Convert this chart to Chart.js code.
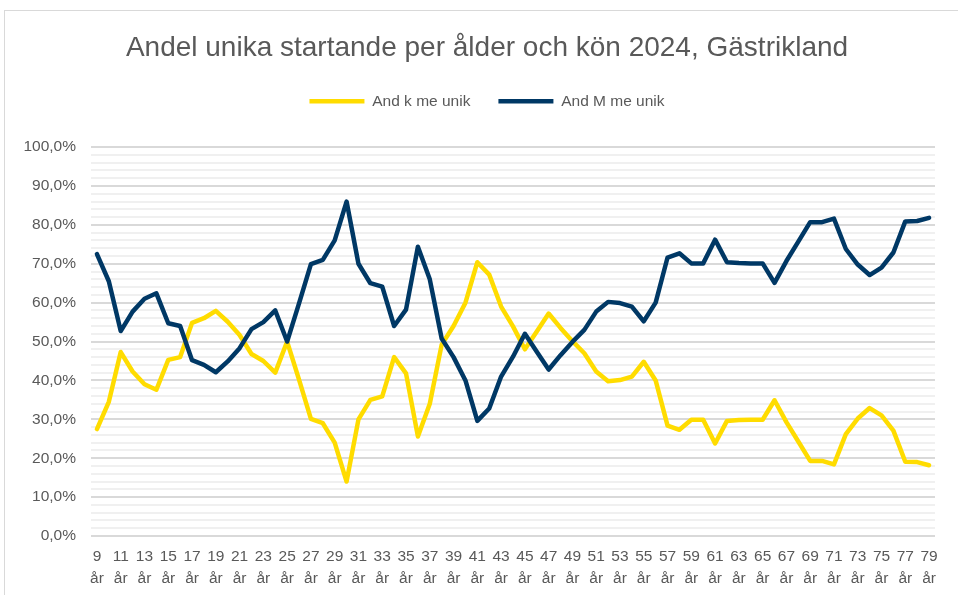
<!DOCTYPE html>
<html>
<head>
<meta charset="utf-8">
<script src="https://cdn.jsdelivr.net/npm/chart.js@4.4.1/dist/chart.umd.min.js"></script>
<style>
  html, body { margin: 0; padding: 0; background: #fff; }
  #wrap { position: relative; width: 958px; height: 595px; overflow: hidden; }
  #frame { position: absolute; left: 4px; top: 10px; width: 980px; height: 600px; border: 1px solid #d9d9d9; box-sizing: border-box; }
  #c { position: absolute; left: 0; top: 0; }
</style>
</head>
<body>
<div id="wrap">
  <div id="frame"></div>
  <canvas id="c" width="958" height="595"></canvas>
</div>
<script>
const titleText = 'Andel unika startande per ålder och kön 2024, Gästrikland';
const ages = ['9','10','11','12','13','14','15','16','17','18',
  '19','20','21','22','23','24','25','26','27','28',
  '29','30','31','32','33','34','35','36','37','38',
  '39','40','41','42','43','44','45','46','47','48',
  '49','50','51','52','53','54','55','56','57','58',
  '59','60','61','62','63','64','65','66','67','68',
  '69','70','71','72','73','74','75','76','77','78','79'];
const unitLabel = 'år';
const seriesNames = ['And k me unik', 'And M me unik'];
const andelK = [27.5,34.5,47.3,42.3,39,37.6,45.3,46,54.8,56,
  57.9,55.1,51.7,46.8,45,42,50,40.2,30.1,29,
  24,14,30,35,35.9,46,41.8,25.6,34,49.2,
  54,60,70.4,67.2,59,53.9,48,52.6,57.2,53.5,
  50.1,47,42.3,39.8,40.1,41,44.8,40,28.4,27.3,
  29.9,29.9,23.8,29.6,29.8,29.9,29.9,34.9,29.3,24.3,
  19.3,19.3,18.4,26.2,30.2,32.9,31,27.1,19.1,19,18.2];
const andelM = [72.5,65.5,52.7,57.7,61,62.4,54.7,54,45.2,44,
  42.1,44.9,48.3,53.2,55,58,50,59.8,69.9,71,
  76,86,70,65,64.1,54,58.2,74.4,66,50.8,
  46,40,29.6,32.8,41,46.1,52,47.4,42.8,46.5,
  49.9,53,57.7,60.2,59.9,59,55.2,60,71.6,72.7,
  70.1,70.1,76.2,70.4,70.2,70.1,70.1,65.1,70.7,75.7,
  80.7,80.7,81.6,73.8,69.8,67.1,69,72.9,80.9,81,81.8];
const yTicksMajor = [0,10,20,30,40,50,60,70,80,90,100];

const FONT = 'Liberation Sans, Arial, sans-serif';
const TXT = '#595959';

const shiftHeader = {
  id: 'shiftHeader',
  afterLayout(chart) {
    [chart.titleBlock, chart.legend].forEach(b => { if (b) { b.left += 29; } });
  }
};

new Chart(document.getElementById('c'), {
  type: 'line',
  data: {
    labels: ages.map(a => a + ' ' + unitLabel),
    datasets: [
      { label: seriesNames[0], data: andelK, xAxisID: 'x', yAxisID: 'y',
        borderColor: '#FFDC00', backgroundColor: '#FFDC00',
        borderWidth: 4.5, pointRadius: 0, tension: 0, borderJoinStyle: 'round', borderCapStyle: 'round', order: 1 },
      { label: seriesNames[1], data: andelM, xAxisID: 'x', yAxisID: 'y',
        borderColor: '#003865', backgroundColor: '#003865',
        borderWidth: 4.5, pointRadius: 0, tension: 0, borderJoinStyle: 'round', borderCapStyle: 'round', order: 0 }
    ]
  },
  plugins: [shiftHeader],
  options: {
    responsive: false,
    animation: false,
    layout: { padding: { top: 12, left: 10, right: 23, bottom: 0 } },
    plugins: {
      tooltip: { enabled: false },
      title: { display: true, text: titleText, color: TXT,
        font: { family: FONT, size: 28, weight: 'normal', lineHeight: 1.2 },
        padding: { top: 19, bottom: 1 } },
      legend: { display: true, position: 'top',
        labels: { usePointStyle: true, pointStyle: 'line', pointStyleWidth: 55, color: TXT,
          font: { family: FONT, size: 15.5 }, padding: 28,
          sort: (a, b) => a.datasetIndex - b.datasetIndex } }
    },
    scales: {
      gap: { type: 'linear', position: 'top', display: true, min: 0, max: 1,
        grid: { display: false }, border: { display: false }, ticks: { display: false },
        afterFit: s => { s.height = 28; } },
      x: {
        offset: true,
        grid: { display: false, drawTicks: false },
        border: { display: false },
        ticks: { autoSkip: false, maxRotation: 0, minRotation: 0, padding: 10, color: TXT,
          font: { family: FONT, size: 15.5, lineHeight: 1.42 },
          callback: function (v, i) { return i % 2 === 0 ? [ages[i], unitLabel] : ''; } },
        afterFit: s => { s.height = 59; }
      },
      y: {
        min: 0, max: 100,
        grid: { drawTicks: false,
          color: c => (Math.round(c.tick.value) % 10 === 0 ? '#D9D9D9' : '#F0F0F0'),
          lineWidth: 2 },
        border: { display: false },
        ticks: { stepSize: 2, autoSkip: false, padding: 15, color: TXT,
          font: { family: FONT, size: 15.5 },
          callback: v => (yTicksMajor.includes(Math.round(v)) ? Math.round(v).toFixed(1).replace('.', ',') + '%' : '') },
        afterFit: s => { s.width = 81; }
      }
    }
  }
});
</script>
</body>
</html>
